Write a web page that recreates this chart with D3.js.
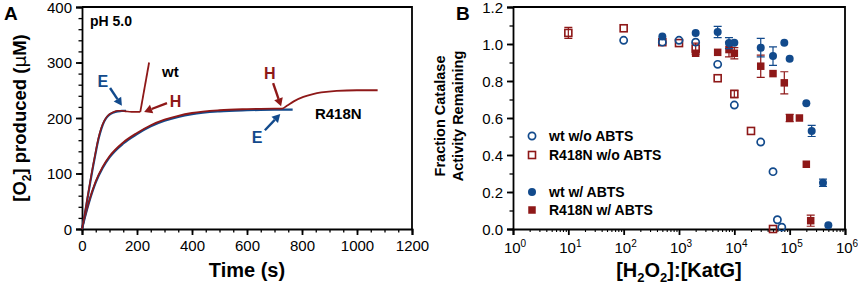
<!DOCTYPE html>
<html><head><meta charset="utf-8">
<script src="https://cdn.jsdelivr.net/npm/d3@7/dist/d3.min.js"></script>
<style>
body{margin:0;background:#fff;}
svg{display:block;font-family:"Liberation Sans",Arial,sans-serif;}
</style></head>
<body><svg id="c" width="858" height="284"></svg>
<script>
// ---------- Panel A data (time s, [O2] µM) ----------
const wtE_t   = [0,10,20,30,40,50,60,70,80,90,100,115,130,145,160];
const wtE_v   = [0,26,55,84,112,138,162,180,193,201,206,210,212,213,213];
const wtH_t   = [0,10,20,30,40,50,60,70,80,90,100,115,130,145,160,180,200,212,244];
const wtH_v   = [0,27,57,86,114,140,164,182,194,202,207,211,213,213,212,211,211,211,300];
const rE_t    = [0,10,25,50,75,100,150,200,250,300,350,400,500,600,700,730,766];
const rE_v    = [0,20,47,84,110,129,154,171,185,195,202,207,212,214,215,215,215];
const rH_t    = [0,10,25,50,75,100,150,200,250,300,350,400,500,600,700,727,745,770,805,840,870,926,1000,1075];
const rH_v    = [0,21,49,86,112,131,156,173,187,197,204,209,214,216,217,217,222,230,238,243,246,249,250,250];
const xTicksA = [0,200,400,600,800,1000,1200];
const yTicksA = [0,100,200,300,400];

// ---------- Panel B data ([H2O2]:[KatG], fraction) ----------
const wtNo_x  = [100,500,1000,2000,5000,10000,30000,50000,60000,72000];
const wtNo_y  = [1.02,1.01,1.02,1.01,0.89,0.67,0.47,0.31,0.05,0.01];
const rNo_x   = [10,100,500,1000,2000,5000,10000,20000,50000];
const rNo_y   = [1.06,1.085,1.01,1.005,0.975,0.815,0.73,0.53,0.0];
const rNo_e   = [0.03,0,0,0,0.03,0,0.02,0,0];
const wtW_x   = [500,2000,5000,8000,10000,30000,50000,80000,100000,200000,250000,400000,500000];
const wtW_y   = [1.04,1.06,1.065,1.005,1.007,0.98,0.935,1.007,0.92,0.68,0.53,0.25,0.02];
const wtW_e   = [0,0,0.03,0.03,0,0.05,0.05,0,0,0,0.03,0.02,0];
const rW_x    = [2000,5000,8000,10000,30000,50000,80000,100000,150000,200000,240000];
const rW_y    = [0.95,0.955,0.97,0.95,0.88,0.84,0.79,0.60,0.60,0.35,0.045];
const rW_e    = [0,0,0.04,0.03,0.06,0,0.06,0.02,0,0,0.03];
const yTicksB = [0,0.2,0.4,0.6,0.8,1.0,1.2];
const xExpB   = [0,1,2,3,4,5,6];
const legendB = ["wt w/o ABTS","R418N w/o ABTS","wt w/ ABTS","R418N w/ ABTS"];

const BLUE="#124a8c", RED="#8e1818";
const svg=d3.select("#c");

// ===== Panel A =====
const xA=d3.scaleLinear().domain([0,1200]).range([82,412]);
const yA=d3.scaleLinear().domain([0,400]).range([229,7]);
const gA=svg.append("g");

function axisStyle(g){g.selectAll("path,line").attr("stroke","#000");}
gA.append("g").attr("transform","translate(0,229)")
  .call(d3.axisBottom(xA).tickValues(d3.range(0,1201,50)).tickSize(3.5).tickFormat(""))
  .call(g=>g.select(".domain").remove()).call(axisStyle).selectAll("line").attr("stroke-width",1.3);
gA.append("g").attr("transform","translate(82,0)")
  .call(d3.axisLeft(yA).tickValues(d3.range(0,401,20)).tickSize(3.5).tickFormat(""))
  .call(g=>g.select(".domain").remove()).call(axisStyle).selectAll("line").attr("stroke-width",1.3);
const axA1=gA.append("g").attr("transform","translate(0,229)")
  .call(d3.axisBottom(xA).tickValues(xTicksA).tickSize(6).tickPadding(5).tickFormat(d3.format("d")));
const axA2=gA.append("g").attr("transform","translate(82,0)")
  .call(d3.axisLeft(yA).tickValues(yTicksA).tickSize(6).tickPadding(4).tickFormat(d3.format("d")));
[axA1,axA2].forEach(a=>{a.call(axisStyle);a.selectAll("path,line").attr("stroke-width",1.8);
  a.selectAll("text").attr("font-size",15).attr("fill","#000").attr("font-family","Liberation Sans, Arial");});
axA2.selectAll("text").attr("dy","0.35em");
gA.append("path").attr("d",`M${xA(0)},${yA(400)}H${xA(1200)}V${yA(0)}`).attr("fill","none").attr("stroke","#000").attr("stroke-width",1.8);

const lineA=(ts,vs)=>d3.line().x((d,i)=>xA(ts[i])).y((d,i)=>yA(vs[i])).curve(d3.curveMonotoneX)(ts);
const lineLin=(ts,vs)=>d3.line().x((d,i)=>xA(ts[i])).y((d,i)=>yA(vs[i]))(ts);
gA.append("path").attr("d",lineA(rE_t,rE_v)).attr("fill","none").attr("stroke",BLUE).attr("stroke-width",2.2);
gA.append("path").attr("d",lineA(rH_t,rH_v)).attr("fill","none").attr("stroke",RED).attr("stroke-width",1.8);
gA.append("path").attr("d",lineA(wtE_t,wtE_v)).attr("fill","none").attr("stroke",BLUE).attr("stroke-width",2.2);
gA.append("path").attr("d",lineA(wtH_t.slice(0,-1),wtH_v.slice(0,-1))).attr("fill","none").attr("stroke",RED).attr("stroke-width",1.6);
gA.append("path").attr("d",lineLin(wtH_t.slice(-2),wtH_v.slice(-2))).attr("fill","none").attr("stroke",RED).attr("stroke-width",1.8);

function arrow(g,x1,y1,x2,y2,col){
  const dx=x2-x1,dy=y2-y1,L=Math.hypot(dx,dy),ux=dx/L,uy=dy/L;
  const hl=8,hw=4.5;
  const bx=x2-ux*hl,by=y2-uy*hl;
  g.append("line").attr("x1",x1).attr("y1",y1).attr("x2",bx).attr("y2",by).attr("stroke",col).attr("stroke-width",2.4);
  g.append("path").attr("d",`M${x2},${y2}L${bx-uy*hw},${by+ux*hw}L${bx+uy*hw},${by-ux*hw}Z`).attr("fill",col);
}
arrow(gA,xA(102),yA(254),xA(145),yA(222),BLUE);
arrow(gA,xA(309),yA(227),xA(226),yA(211),RED);
arrow(gA,xA(695),yA(263),xA(724),yA(221),RED);
arrow(gA,xA(665),yA(178),xA(721),yA(207),BLUE);
const txt=(g,x,y,s,sz,col,anchor)=>g.append("text").attr("x",x).attr("y",y).attr("font-size",sz).attr("font-weight","bold").attr("fill",col).attr("text-anchor",anchor||"start").text(s);
txt(gA,xA(29),yA(366),"pH 5.0",14,"#000");
txt(gA,xA(291),yA(274),"wt",15,"#000");
txt(gA,xA(847),yA(198),"R418N",15,"#000");
txt(gA,xA(56),yA(256),"E",16,BLUE);
txt(gA,xA(319),yA(220),"H",16,RED);
txt(gA,xA(662),yA(270),"H",16,RED);
txt(gA,xA(617),yA(155),"E",16,BLUE);
txt(svg,4,20,"A",19,"#000");
txt(svg,456,20,"B",19,"#000");
const tA=svg.append("text").attr("transform","translate(26,118) rotate(-90)").attr("text-anchor","middle")
  .attr("font-size",18.5).attr("font-weight","bold");
tA.append("tspan").text("[O");
tA.append("tspan").attr("font-size",12).attr("dy",5).text("2");
tA.append("tspan").attr("dy",-5).text("] produced (");
tA.append("tspan").attr("font-family","DejaVu Sans").attr("font-weight","normal").text("μ");
tA.append("tspan").text("M)");
txt(svg,xA(600),277,"Time (s)",20,"#000","middle");

// ===== Panel B =====
const xB=d3.scaleLog().domain([1,1e6]).range([513,845]);
const yB=d3.scaleLinear().domain([0,1.2]).range([229,7]);
const gB=svg.append("g");
const minors=[];xExpB.slice(0,-1).forEach(e=>{for(let k=2;k<=9;k++)minors.push(k*Math.pow(10,e));});
gB.append("g").attr("transform","translate(0,229)")
  .call(d3.axisBottom(xB).tickValues(minors).tickSize(3).tickFormat(""))
  .call(g=>g.select(".domain").remove()).call(axisStyle).selectAll("line").attr("stroke-width",1.1);
gB.append("g").attr("transform","translate(513,0)")
  .call(d3.axisLeft(yB).tickValues(d3.range(0,13).map(i=>i/10)).tickSize(3.5).tickFormat(""))
  .call(g=>g.select(".domain").remove()).call(axisStyle).selectAll("line").attr("stroke-width",1.3);
const axB1=gB.append("g").attr("transform","translate(0,229)")
  .call(d3.axisBottom(xB).tickValues(xExpB.map(e=>Math.pow(10,e))).tickSize(6).tickFormat(""));
const axB2=gB.append("g").attr("transform","translate(513,0)")
  .call(d3.axisLeft(yB).tickValues(yTicksB).tickSize(6).tickPadding(4).tickFormat(d3.format(".1f")));
[axB1,axB2].forEach(a=>{a.call(axisStyle);a.selectAll("path,line").attr("stroke-width",1.8);
  a.selectAll("text").attr("font-size",15).attr("fill","#000").attr("font-family","Liberation Sans, Arial");});
axB2.selectAll("text").attr("dy","0.35em");
xExpB.forEach(e=>{
  const t=gB.append("text").attr("x",xB(Math.pow(10,e))+2).attr("y",253).attr("text-anchor","middle").attr("font-size",15);
  t.append("tspan").text("10");
  t.append("tspan").attr("font-size",10).attr("dy",-6).text(e);
});
gB.append("path").attr("d",`M${xB(1)},${yB(1.2)}H${xB(1e6)}V${yB(0)}`).attr("fill","none").attr("stroke","#000").attr("stroke-width",1.8);

function errs(xs,ys,es,col){
  xs.forEach((x,i)=>{ if(!es[i])return;
    const cx=xB(x),y1=yB(ys[i]-es[i]),y2=yB(ys[i]+es[i]);
    gB.append("path").attr("d",`M${cx},${y1}V${y2}M${cx-4},${y1}H${cx+4}M${cx-4},${y2}H${cx+4}`).attr("stroke",col).attr("stroke-width",1.2).attr("fill","none");
  });
}
function circles(xs,ys,col,filled){
  gB.selectAll(null).data(xs).enter().append("circle").attr("cx",d=>xB(d)).attr("cy",(d,i)=>yB(ys[i])).attr("r",filled?4:3.6)
    .attr("fill",filled?col:"none").attr("stroke",col).attr("stroke-width",filled?0:1.7);
}
function squares(xs,ys,col,filled){
  const s=filled?7.5:7;
  gB.selectAll(null).data(xs).enter().append("rect").attr("x",d=>xB(d)-s/2).attr("y",(d,i)=>yB(ys[i])-s/2).attr("width",s).attr("height",s)
    .attr("fill",filled?col:"none").attr("stroke",col).attr("stroke-width",filled?0:1.6);
}
errs(rNo_x,rNo_y,rNo_e,RED);
squares(rNo_x,rNo_y,RED,false);
circles(wtNo_x,wtNo_y,BLUE,false);
errs(rW_x,rW_y,rW_e,RED);
squares(rW_x,rW_y,RED,true);
errs(wtW_x,wtW_y,wtW_e,BLUE);
circles(wtW_x,wtW_y,BLUE,true);

const legY=[136,155,192,210];
legY.forEach((y,i)=>{
  const cx=532;
  if(i===0) gB.append("circle").attr("cx",cx).attr("cy",y).attr("r",3.6).attr("fill","none").attr("stroke",BLUE).attr("stroke-width",1.7);
  if(i===1) gB.append("rect").attr("x",cx-3.5).attr("y",y-3.5).attr("width",7).attr("height",7).attr("fill","none").attr("stroke",RED).attr("stroke-width",1.6);
  if(i===2) gB.append("circle").attr("cx",cx).attr("cy",y).attr("r",4).attr("fill",BLUE);
  if(i===3) gB.append("rect").attr("x",cx-3.75).attr("y",y-3.75).attr("width",7.5).attr("height",7.5).attr("fill",RED);
  txt(gB,549,y+5,legendB[i],14,"#000");
});
const tB=svg.append("text").attr("transform","translate(445,116) rotate(-90)").attr("text-anchor","middle").attr("font-size",14.5).attr("font-weight","bold");
tB.append("tspan").attr("x",0).attr("dy",0).text("Fraction Catalase");
tB.append("tspan").attr("x",0).attr("dy",18).text("Activity Remaining");
const tX=svg.append("text").attr("x",679).attr("y",277).attr("text-anchor","middle").attr("font-size",20).attr("font-weight","bold");
tX.append("tspan").text("[H");
tX.append("tspan").attr("font-size",13).attr("dy",5).text("2");
tX.append("tspan").attr("dy",-5).text("O");
tX.append("tspan").attr("font-size",13).attr("dy",5).text("2");
tX.append("tspan").attr("dy",-5).text("]:[KatG]");
</script></body></html>
